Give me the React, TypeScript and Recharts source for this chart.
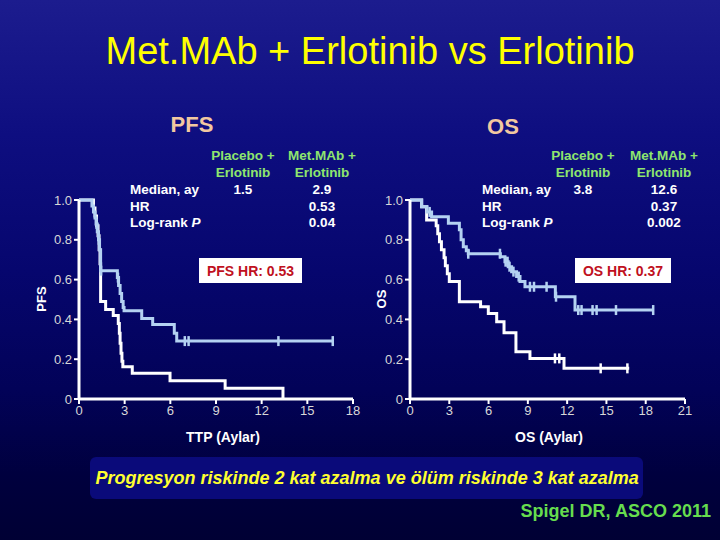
import { ComposedChart, Line, Scatter, XAxis, YAxis } from 'recharts';

// PFS (months) - Placebo + Erlotinib (white)
const pfsPlaceboT = [0, 0.95, 1.05, 1.15, 1.25, 1.32, 1.38, 1.42, 1.75, 2.25, 2.58, 2.65, 2.7, 2.76, 2.82, 2.88, 3.5, 5.98, 9.6, 13.4];
const pfsPlaceboS = [1, 0.96, 0.92, 0.87, 0.82, 0.75, 0.68, 0.49, 0.45, 0.42, 0.38, 0.33, 0.28, 0.23, 0.19, 0.162, 0.129, 0.092, 0.054, 0];

// PFS - Met.MAb + Erlotinib (light blue)
const pfsMetT = [0, 0.85, 0.95, 1.05, 1.12, 1.2, 1.28, 1.35, 1.42, 2.52, 2.6, 2.7, 2.8, 2.9, 2.96, 4.12, 4.84, 6.26, 6.42, 16.67];
const pfsMetS = [1, 0.97, 0.94, 0.91, 0.88, 0.84, 0.8, 0.75, 0.645, 0.61, 0.57, 0.53, 0.49, 0.46, 0.444, 0.405, 0.375, 0.33, 0.291, 0.291];
const pfsMetCensorT = [1.15, 1.3, 1.45, 2.56, 6.95, 7.2, 13.1, 16.67];
const pfsMetCensorS = [0.88, 0.8, 0.645, 0.61, 0.291, 0.291, 0.291, 0.291];

// OS - Placebo + Erlotinib (white)
const osPlaceboT = [0, 0.89, 1.27, 2.0, 2.12, 2.25, 2.4, 2.6, 2.7, 2.85, 3.0, 3.77, 5.39, 5.98, 6.62, 7.18, 8.09, 9.16, 11.76, 16.74];
const osPlaceboS = [1, 0.966, 0.9, 0.87, 0.83, 0.79, 0.75, 0.71, 0.67, 0.63, 0.59, 0.489, 0.464, 0.43, 0.388, 0.333, 0.238, 0.204, 0.154, 0.154];
const osPlaceboCensorT = [11.07, 11.4, 14.56, 16.6];
const osPlaceboCensorS = [0.204, 0.204, 0.154, 0.154];

// OS - Met.MAb + Erlotinib (light blue)
const osMetT = [0, 0.89, 1.3, 1.65, 2.93, 3.77, 3.9, 4.07, 4.3, 4.45, 6.9, 7.25, 7.5, 7.76, 8.14, 8.4, 8.78, 11.1, 12.6, 18.57];
const osMetS = [1, 0.966, 0.94, 0.916, 0.883, 0.85, 0.8, 0.765, 0.745, 0.73, 0.715, 0.69, 0.665, 0.64, 0.615, 0.59, 0.564, 0.514, 0.447, 0.447];
const osMetCensorT = [1.5, 4.45, 6.87, 7.3, 7.45, 7.6, 7.9, 8.3, 9.16, 9.47, 10.43, 11.15, 12.85, 13.1, 13.94, 14.25, 15.73, 18.57];
const osMetCensorS = [0.94, 0.73, 0.73, 0.69, 0.69, 0.665, 0.64, 0.615, 0.564, 0.564, 0.564, 0.514, 0.447, 0.447, 0.447, 0.447, 0.447, 0.447];

const pfsTicks = [0, 3, 6, 9, 12, 15, 18];
const osTicks = [0, 3, 6, 9, 12, 15, 18, 21];
const yTicks = [0, 0.2, 0.4, 0.6, 0.8, 1.0];

const WHITE = '#ffffff';
const BLUE = '#b4d2f2';

const pts = (t: number[], s: number[]) => t.map((x, i) => ({ t: x, s: s[i] }));

const censorShape = (color: string) => (props: any) => (
    <line x1={props.cx} x2={props.cx} y1={props.cy - 5} y2={props.cy + 5} stroke={color} strokeWidth={2.5} />
);

const tickStyle = { fill: '#d8d8d8', fontSize: 13, fontFamily: "'Liberation Sans', Arial, sans-serif" };

function KMPanel({ left, width, marginLeft, xMax, xTicks, placebo, met, censorPlacebo, censorMet }: any) {
    return (
        <div style={{ position: 'absolute', left, top: 180 }}>
            <ComposedChart width={width} height={260} margin={{ top: 20, right: 12, bottom: 11, left: marginLeft }}>
                <XAxis
                    type="number"
                    dataKey="t"
                    domain={[0, xMax]}
                    ticks={xTicks}
                    tick={tickStyle}
                    tickSize={5}
                    height={30}
                    axisLine={{ stroke: WHITE, strokeWidth: 3 }}
                    tickLine={{ stroke: WHITE, strokeWidth: 2 }}
                />
                <YAxis
                    type="number"
                    dataKey="s"
                    domain={[0, 1]}
                    ticks={yTicks}
                    tick={tickStyle}
                    tickSize={5}
                    width={40}
                    tickFormatter={(v: number) => (v === 0 ? '0' : v.toFixed(1))}
                    axisLine={{ stroke: WHITE, strokeWidth: 3 }}
                    tickLine={{ stroke: WHITE, strokeWidth: 2 }}
                />
                <Line data={placebo} dataKey="s" type="stepAfter" stroke={WHITE} strokeWidth={3} dot={false} isAnimationActive={false} />
                <Line data={met} dataKey="s" type="stepAfter" stroke={BLUE} strokeWidth={3} dot={false} isAnimationActive={false} />
                {censorPlacebo && (
                    <Scatter data={censorPlacebo} shape={censorShape(WHITE)} isAnimationActive={false} />
                )}
                <Scatter data={censorMet} shape={censorShape(BLUE)} isAnimationActive={false} />
            </ComposedChart>
        </div>
    );
}

const F = "'Liberation Sans', Arial, Helvetica, sans-serif";

export default function App() {
    return (
        <div
            style={{
                position: 'absolute',
                left: 0,
                top: 0,
                width: 720,
                height: 540,
                overflow: 'hidden',
                background: 'linear-gradient(to bottom, #1c1c8e 0%, #0e0e80 25%, #06066e 50%, #020258 72%, #00003e 88%, #000034 100%)',
                fontFamily: F,
            }}
        >
            <KMPanel
                left={20}
                width={345}
                marginLeft={19}
                xMax={18}
                xTicks={pfsTicks}
                placebo={pts(pfsPlaceboT, pfsPlaceboS)}
                met={pts(pfsMetT, pfsMetS)}
                censorMet={pts(pfsMetCensorT, pfsMetCensorS)}
            />
            <KMPanel
                left={350}
                width={347}
                marginLeft={20}
                xMax={21}
                xTicks={osTicks}
                placebo={pts(osPlaceboT, osPlaceboS)}
                met={pts(osMetT, osMetS)}
                censorPlacebo={pts(osPlaceboCensorT, osPlaceboCensorS)}
                censorMet={pts(osMetCensorT, osMetCensorS)}
            />

            <svg width={720} height={540} style={{ position: 'absolute', left: 0, top: 0, pointerEvents: 'none' }} fontFamily={F}>
                <text x={370} y={64} textAnchor="middle" fill="#ffff00" fontSize={38}>Met.MAb + Erlotinib vs Erlotinib</text>
                <text x={192} y={132} textAnchor="middle" fill="#f2c8a0" fontSize={22} fontWeight="bold">PFS</text>
                <text x={503} y={134} textAnchor="middle" fill="#f2c8a0" fontSize={22} fontWeight="bold">OS</text>

                {/* PFS table */}
                <g fontSize={13.5} fontWeight="bold">
                    <text x={243} y={159.5} textAnchor="middle" fill="#8ee66e">Placebo +</text>
                    <text x={243} y={176.5} textAnchor="middle" fill="#8ee66e">Erlotinib</text>
                    <text x={322} y={159.5} textAnchor="middle" fill="#8ee66e">Met.MAb +</text>
                    <text x={322} y={176.5} textAnchor="middle" fill="#8ee66e">Erlotinib</text>
                    <text x={130} y={194} fill={WHITE}>Median, ay</text>
                    <text x={130} y={211} fill={WHITE}>HR</text>
                    <text x={130} y={227} fill={WHITE}>Log-rank <tspan fontStyle="italic">P</tspan></text>
                    <text x={243} y={194} textAnchor="middle" fill={WHITE}>1.5</text>
                    <text x={322} y={194} textAnchor="middle" fill={WHITE}>2.9</text>
                    <text x={322} y={211} textAnchor="middle" fill={WHITE}>0.53</text>
                    <text x={322} y={227} textAnchor="middle" fill={WHITE}>0.04</text>
                </g>

                {/* OS table */}
                <g fontSize={13.5} fontWeight="bold">
                    <text x={583} y={159.5} textAnchor="middle" fill="#8ee66e">Placebo +</text>
                    <text x={583} y={176.5} textAnchor="middle" fill="#8ee66e">Erlotinib</text>
                    <text x={664} y={159.5} textAnchor="middle" fill="#8ee66e">Met.MAb +</text>
                    <text x={664} y={176.5} textAnchor="middle" fill="#8ee66e">Erlotinib</text>
                    <text x={482} y={194} fill={WHITE}>Median, ay</text>
                    <text x={482} y={211} fill={WHITE}>HR</text>
                    <text x={482} y={227} fill={WHITE}>Log-rank <tspan fontStyle="italic">P</tspan></text>
                    <text x={583} y={194} textAnchor="middle" fill={WHITE}>3.8</text>
                    <text x={664} y={194} textAnchor="middle" fill={WHITE}>12.6</text>
                    <text x={664} y={211} textAnchor="middle" fill={WHITE}>0.37</text>
                    <text x={664} y={227} textAnchor="middle" fill={WHITE}>0.002</text>
                </g>

                {/* HR boxes */}
                <rect x={199} y={258} width={103} height={25} fill={WHITE} />
                <text x={250.5} y={276} textAnchor="middle" fill="#c01020" fontSize={14} fontWeight="bold">PFS HR: 0.53</text>
                <rect x={575} y={258} width={96} height={25} fill={WHITE} />
                <text x={623} y={276} textAnchor="middle" fill="#c01020" fontSize={14} fontWeight="bold">OS HR: 0.37</text>

                {/* axis titles */}
                <text transform="translate(46,299) rotate(-90)" textAnchor="middle" fill={WHITE} fontSize={13} fontWeight="bold">PFS</text>
                <text transform="translate(386,299) rotate(-90)" textAnchor="middle" fill={WHITE} fontSize={13} fontWeight="bold">OS</text>
                <text x={223} y={442} textAnchor="middle" fill={WHITE} fontSize={14} fontWeight="bold">TTP (Aylar)</text>
                <text x={549} y={442} textAnchor="middle" fill={WHITE} fontSize={14} fontWeight="bold">OS (Aylar)</text>

                {/* conclusion */}
                <rect x={90} y={457} width={553} height={42} rx={6} fill="#0a0a7a" />
                <text x={95.5} y={484} fill="#ffff30" fontSize={18} fontWeight="bold" fontStyle="italic">
                    Progresyon riskinde 2 kat azalma ve ölüm riskinde 3 kat azalma
                </text>
                <text x={711} y={517} textAnchor="end" fill="#66dd4e" fontSize={18} fontWeight="bold">Spigel DR, ASCO 2011</text>
            </svg>
        </div>
    );
}
